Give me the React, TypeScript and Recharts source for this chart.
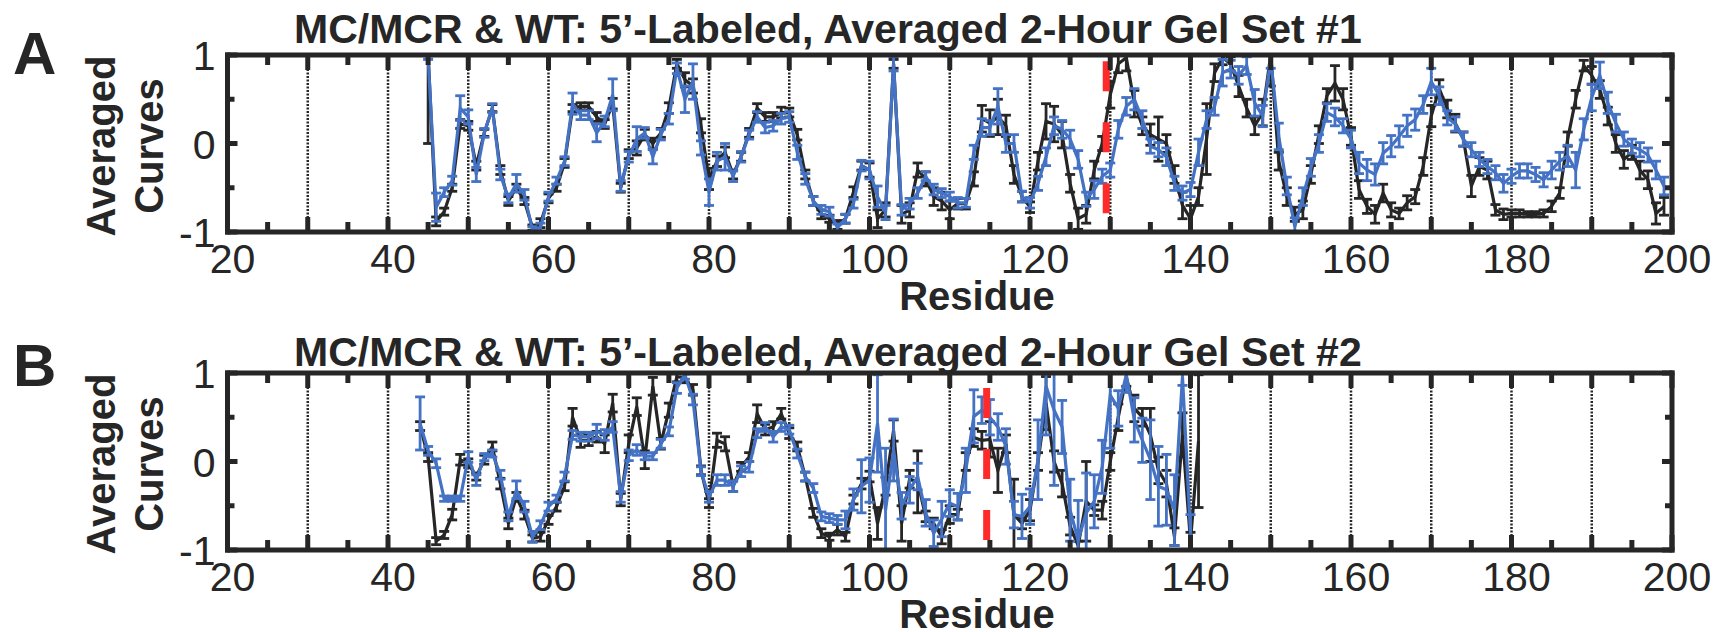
import React from "react";
import { ComposedChart, Line, XAxis, YAxis, ReferenceLine, ErrorBar } from "recharts";

const INK = "#262626";
const BLUE = "#4472C4";
const RED = "#FF2A2A";
const FONT = "'Liberation Sans', Arial, Helvetica, sans-serif";

// ---- panel A: residues 45-199 ----
const residuesA = [
  45, 46, 47, 48, 49, 50, 51, 52, 53, 54, 55, 56, 57, 58, 59, 60, 61, 62, 63, 64,
  65, 66, 67, 68, 69, 70, 71, 72, 73, 74, 75, 76, 77, 78, 79, 80, 81, 82, 83, 84,
  85, 86, 87, 88, 89, 90, 91, 92, 93, 94, 95, 96, 97, 98, 99, 100, 101, 102, 103, 104,
  105, 106, 107, 108, 109, 110, 111, 112, 113, 114, 115, 116, 117, 118, 119, 120, 121, 122, 123, 124,
  125, 126, 127, 128, 129, 130, 131, 132, 133, 134, 135, 136, 137, 138, 139, 140, 141, 142, 143, 144,
  145, 146, 147, 148, 149, 150, 151, 152, 153, 154, 155, 156, 157, 158, 159, 160, 161, 162, 163, 164,
  165, 166, 167, 168, 169, 170, 171, 172, 173, 174, 175, 176, 177, 178, 179, 180, 181, 182, 183, 184,
  185, 186, 187, 188, 189, 190, 191, 192, 193, 194, 195, 196, 197, 198, 199,
];
const blackA = [
  1.0, -0.88, -0.77, -0.5, 0.22, 0.2, -0.25, 0.12, 0.4, -0.3, -0.65, -0.5, -0.65, -0.95, -0.9, -0.62, -0.5, -0.22, 0.4, 0.42,
  0.42, 0.3, 0.22, 0.45, -0.5, -0.12, -0.05, 0.1, 0.0, 0.12, 0.4, 0.9, 0.72, 0.65, 0.2, -0.4, -0.2, -0.1, -0.35, -0.15,
  0.12, 0.4, 0.3, 0.3, 0.35, 0.35, 0.1, -0.35, -0.65, -0.8, -0.85, -0.92, -0.85, -0.55, -0.25, -0.3, -0.85, -0.75, 0.9, -0.8,
  -0.75, -0.3, -0.4, -0.6, -0.65, -0.75, -0.68, -0.68, -0.4, 0.28, 0.23, 0.3, 0.2, -0.35, -0.6, -0.72, -0.2, 0.25, 0.22, 0.1,
  -0.45, -0.85, -0.8, -0.3, 0.0, 0.55, 0.9, 0.97, 0.45, 0.2, 0.1, 0.05, 0.0, -0.35, -0.7, -0.85, -0.6, 0.05, 0.8, 0.97,
  0.9, 0.65, 0.4, 0.2, 0.35, 1.0, -0.2, -0.6, -0.8, -0.75, -0.35, 0.1, 0.54, 0.68, 0.5, 0.08, -0.52, -0.71, -0.8, -0.56,
  -0.75, -0.79, -0.67, -0.6, -0.26, 0.31, 0.62, 0.39, 0.23, 0.05, -0.48, -0.26, -0.3, -0.75, -0.8, -0.79, -0.79, -0.8, -0.8, -0.79,
  -0.71, -0.56, 0.05, 0.5, 0.88, 0.77, 0.61, 0.31, 0.0, -0.18, -0.1, -0.3, -0.41, -0.79, -0.71,
];
const blackErrA = [
  [1, 0], 0.05, 0.04, 0.04, 0.05, 0.05, 0.05, 0.04, 0.04, 0.05, 0.05, 0.04, 0.04, 0.03, 0.05, 0.05, 0.04, 0.05, 0.04, 0.04,
  0.04, 0.05, 0.05, 0.06, 0.05, 0.05, 0.08, 0.06, 0.06, 0.05, 0.06, 0.05, 0.08, 0.08, 0.08, 0.12, 0.06, 0.06, 0.05, 0.05,
  0.05, 0.05, 0.05, 0.05, 0.06, 0.05, 0.06, 0.05, 0.05, 0.05, 0.04, 0.05, 0.05, 0.06, 0.05, 0.08, 0.1, 0.08, 0.05, 0.1,
  0.08, 0.08, 0.08, 0.1, 0.1, 0.1, 0.06, 0.06, 0.08, 0.15, 0.15, 0.2, 0.12, 0.1, 0.06, 0.06, 0.1, 0.2, 0.2, 0.15,
  0.1, 0.12, 0.1, 0.1, 0.08, 0.15, 0.1, 0.15, 0.15, 0.1, 0.12, 0.25, 0.1, 0.1, 0.15, 0.15, 0.1, 0.4, 0.1, 0.08,
  0.08, 0.12, 0.1, 0.1, 0.15, 0.35, 0.1, 0.1, 0.08, 0.1, 0.1, 0.1, 0.08, 0.2, 0.12, 0.1, 0.1, 0.08, 0.1, 0.1,
  0.08, 0.06, 0.08, 0.08, 0.1, 0.12, 0.1, 0.1, 0.1, 0.08, 0.12, 0.1, 0.1, 0.06, 0.06, 0.04, 0.04, 0.03, 0.03, 0.04,
  0.06, 0.06, 0.08, 0.1, 0.06, 0.1, 0.1, 0.1, 0.1, 0.1, 0.08, 0.1, 0.1, 0.12, 0.1,
];
const blueA = [
  0.97, -0.72, -0.55, -0.42, 0.4, 0.3, -0.35, 0.12, 0.4, -0.35, -0.62, -0.45, -0.58, -0.98, -0.95, -0.6, -0.42, -0.2, 0.45, 0.32,
  0.32, 0.12, 0.25, 0.55, -0.48, -0.15, 0.05, 0.12, -0.15, 0.1, 0.28, 0.85, 0.5, 0.7, -0.05, -0.55, -0.2, -0.15, -0.37, -0.15,
  0.1, 0.3, 0.18, 0.2, 0.28, 0.3, -0.1, -0.4, -0.65, -0.75, -0.77, -0.95, -0.85, -0.68, -0.25, -0.3, -0.6, -0.78, 0.9, -0.75,
  -0.68, -0.56, -0.37, -0.52, -0.56, -0.6, -0.67, -0.67, -0.1, 0.18, 0.18, 0.42, 0.0, 0.0, -0.6, -0.67, -0.45, -0.15, 0.2, 0.16,
  0.05, -0.18, -0.63, -0.52, -0.37, -0.3, 0.16, 0.42, 0.5, 0.27, -0.03, -0.07, -0.15, -0.45, -0.56, -0.52, -0.1, 0.27, 0.42, 0.8,
  0.84, 0.77, 0.88, 0.46, 0.31, 0.95, 0.08, -0.48, -0.94, -0.6, -0.27, 0.0, 0.35, 0.3, 0.2, 0.05, -0.22, -0.3, -0.35, -0.11,
  -0.03, 0.08, 0.2, 0.27, 0.44, 0.7, 0.54, 0.29, 0.22, 0.05, -0.07, -0.18, -0.26, -0.33, -0.45, -0.37, -0.31, -0.31, -0.35, -0.41,
  -0.3, -0.2, -0.14, -0.3, 0.16, 0.52, 0.77, 0.46, 0.23, 0.05, -0.03, -0.07, -0.13, -0.3, -0.48,
];
const blueErrA = [
  0.02, 0.16, 0.05, 0.05, 0.14, 0.08, 0.08, 0.05, 0.05, 0.06, 0.05, 0.1, 0.06, 0.04, 0.05, 0.05, 0.04, 0.05, 0.12, 0.05,
  0.05, 0.1, 0.06, 0.18, 0.06, 0.06, 0.14, 0.06, 0.08, 0.06, 0.06, 0.06, 0.15, 0.2, 0.08, 0.15, 0.1, 0.15, 0.06, 0.06,
  0.05, 0.06, 0.06, 0.06, 0.06, 0.06, 0.08, 0.06, 0.05, 0.05, 0.05, 0.04, 0.05, 0.05, 0.06, 0.1, 0.12, 0.08, 0.08, 0.06,
  0.06, 0.06, 0.05, 0.06, 0.05, 0.05, 0.06, 0.05, 0.08, 0.1, 0.08, 0.2, 0.1, 0.1, 0.06, 0.06, 0.08, 0.1, 0.1, 0.1,
  0.1, 0.1, 0.08, 0.1, 0.08, 0.08, 0.1, 0.1, 0.12, 0.1, 0.08, 0.08, 0.1, 0.08, 0.08, 0.08, 0.15, 0.1, 0.1, 0.15,
  0.1, 0.1, 0.1, 0.15, 0.12, 0.1, 0.15, 0.1, 0.1, 0.1, 0.1, 0.1, 0.1, 0.1, 0.08, 0.1, 0.12, 0.12, 0.12, 0.12,
  0.12, 0.12, 0.12, 0.12, 0.1, 0.15, 0.1, 0.08, 0.08, 0.08, 0.08, 0.08, 0.08, 0.08, 0.1, 0.08, 0.08, 0.08, 0.08, 0.08,
  0.1, 0.1, 0.12, 0.2, 0.12, 0.15, 0.15, 0.12, 0.1, 0.08, 0.08, 0.08, 0.08, 0.1, 0.1,
];

// ---- panel B: residues 44-141 ----
const residuesB = [
  44, 45, 46, 47, 48, 49, 50, 51, 52, 53, 54, 55, 56, 57, 58, 59, 60, 61, 62, 63,
  64, 65, 66, 67, 68, 69, 70, 71, 72, 73, 74, 75, 76, 77, 78, 79, 80, 81, 82, 83,
  84, 85, 86, 87, 88, 89, 90, 91, 92, 93, 94, 95, 96, 97, 98, 99, 100, 101, 102, 103,
  104, 105, 106, 107, 108, 109, 110, 111, 112, 113, 114, 115, 116, 117, 118, 119, 120, 121, 122, 123,
  124, 125, 126, 127, 128, 129, 130, 131, 132, 133, 134, 135, 136, 137, 138, 139, 140, 141,
];
const blackB = [
  0.4, 0.05, -0.9, -0.83, -0.6, 0.02, -0.02, -0.17, 0.02, 0.17, -0.25, -0.7, -0.4, -0.6, -0.87, -0.85, -0.66, -0.51, -0.28, 0.5,
  0.24, 0.24, 0.28, 0.2, 0.66, -0.43, 0.2, 0.62, 0.02, 0.85, 0.2, 0.58, 0.96, 0.94, 0.81, -0.1, -0.47, 0.24, 0.2, -0.28,
  -0.06, 0.05, 0.54, 0.36, 0.39, 0.54, 0.32, 0.17, -0.17, -0.58, -0.81, -0.85, -0.77, -0.85, -0.43, -0.25, -0.17, -0.7, -0.28, 0.35,
  -0.7, -0.2, -0.23, -0.62, -0.7, -0.85, -0.6, -0.6, 0.0, 0.27, 0.24, 0.25, -0.1, 0.2, -0.6, -0.7, -0.55, 0.0, 0.66, 0.0,
  -0.25, -0.73, -0.95, -0.45, -0.55, -0.55, 0.0, 0.5, 0.95, 0.6, 0.5, 0.3, -0.1, -0.25, -0.85, 0.3, -0.9, 0.23,
];
const blackErrB = [
  0.05, 0.05, 0.04, 0.04, 0.06, 0.06, 0.05, 0.04, 0.05, 0.05, 0.06, 0.06, 0.05, 0.05, 0.04, 0.05, 0.05, 0.05, 0.05, 0.1,
  0.08, 0.06, 0.06, 0.1, 0.1, 0.07, 0.1, 0.1, 0.1, 0.1, 0.06, 0.08, 0.06, 0.05, 0.06, 0.05, 0.05, 0.08, 0.08, 0.06,
  0.05, 0.05, 0.1, 0.06, 0.06, 0.06, 0.06, 0.05, 0.05, 0.05, 0.05, 0.04, 0.06, 0.05, 0.05, 0.06, 0.06, 0.18, 0.1, 0.12,
  0.2, 0.1, 0.35, 0.06, 0.06, 0.08, 0.1, 0.06, 0.1, 0.1, 0.1, 0.2, 0.25, 0.1, 0.4, 0.06, 0.12, 0.1, 0.3, 0.12,
  0.15, 0.1, 0.05, 0.45, 0.06, 0.1, 0.1, 0.15, 0.1, 0.15, 0.1, 0.3, 0.15, 0.15, 0.1, 0.25, 0.1, 0.75,
];
const blueB = [
  0.43, 0.12, -0.02, -0.42, -0.42, -0.42, 0.05, -0.21, 0.05, 0.09, -0.15, -0.62, -0.32, -0.51, -0.85, -0.72, -0.51, -0.42, -0.17, 0.3,
  0.28, 0.28, 0.34, 0.3, 0.39, -0.4, 0.07, 0.13, 0.06, 0.06, 0.2, 0.34, 0.83, 0.98, 0.7, -0.11, -0.4, -0.21, -0.21, -0.28,
  -0.11, -0.06, 0.32, 0.39, 0.28, 0.39, 0.36, 0.09, -0.17, -0.3, -0.62, -0.64, -0.66, -0.66, -0.43, -0.28, -0.21, 0.43, -0.55, 0.13,
  -0.5, -0.32, -0.17, -0.58, -0.81, -0.65, -0.47, -0.51, -0.1, 0.51, 0.58, 0.5, 0.39, 0.17, -0.6, -0.62, -0.51, 0.02, 0.85, 0.58,
  0.39, -0.55, -0.89, -0.58, -0.45, -0.06, 0.75, 0.6, 0.98, 0.47, 0.24, 0.02, -0.28, -0.32, -0.55, 0.96, -0.8, null,
];
const blueErrB = [
  0.3, 0.05, 0.05, 0.03, 0.03, 0.03, 0.06, 0.06, 0.04, 0.04, 0.05, 0.05, 0.1, 0.06, 0.06, 0.05, 0.05, 0.04, 0.05, 0.05,
  0.05, 0.05, 0.08, 0.06, 0.06, 0.06, 0.06, 0.06, 0.04, 0.04, 0.05, 0.05, 0.06, 0.05, 0.06, 0.05, 0.06, 0.06, 0.06, 0.06,
  0.06, 0.06, 0.05, 0.05, 0.06, 0.05, 0.05, 0.05, 0.05, 0.05, 0.05, 0.05, 0.05, 0.1, 0.12, 0.3, 0.25, 0.55, 0.7, 0.35,
  0.15, 0.15, 0.15, 0.15, 0.15, 0.2, 0.15, 0.15, 0.25, 0.3, 0.15, 0.2, 0.15, 0.2, 0.15, 0.25, 0.2, 0.45, 0.55, 0.85,
  0.3, 0.35, 0.45, 0.45, 0.3, 0.3, 0.6, 0.2, 0.2, 0.25, 0.25, 0.45, 0.45, 0.4, 0.4, 0.1, 0.2, null,
];

const xTicks = [20, 25, 30, 35, 40, 45, 50, 55, 60, 65, 70, 75, 80, 85, 90, 95, 100, 105, 110, 115, 120,
  125, 130, 135, 140, 145, 150, 155, 160, 165, 170, 175, 180, 185, 190, 195, 200];
const yTicks = [-1, -0.5, 0, 0.5, 1];
const dottedResidues = [30, 40, 50, 60, 70, 80, 90, 100, 110, 120, 130, 140, 150, 160, 170, 180, 190];
const redMarkA = 129.5;
const redMarkB = 114.6;

const titleA = "MC/MCR & WT: 5\u2019-Labeled, Averaged 2-Hour Gel Set #1";
const titleB = "MC/MCR & WT: 5\u2019-Labeled, Averaged 2-Hour Gel Set #2";

// error bars are cut at the axes limits, like the clipped bars of the original
function clipErr(v: number | null, e: any) {
  if (v == null || e == null) return null;
  const [lo, hi] = Array.isArray(e) ? e : [e, e];
  return [Math.max(0, Math.min(lo, v + 1)), Math.max(0, Math.min(hi, 1 - v))];
}

function buildRows(res: number[], k: any[], kE: any[], b: any[], bE: any[]) {
  return res.map((r, i) => ({ r, k: k[i], kE: clipErr(k[i], kE[i]), b: b[i], bE: clipErr(b[i], bE[i]) }));
}

const rowsA = buildRows(residuesA, blackA, blackErrA, blueA, blueErrA);
const rowsB = buildRows(residuesB, blackB, blackErrB, blueB, blueErrB);

const AXIS = { stroke: INK, strokeWidth: 5, strokeLinecap: "square" as const };
const TICK_W = 5;

const BottomTick = (p: any) => {
  const { x, y, payload } = p;
  const v = payload.value;
  const len = v % 10 === 0 ? 15 : 10;
  return (
    <g>
      <line x1={x} x2={x} y1={y} y2={y - len} stroke={INK} strokeWidth={TICK_W} />
      {v % 20 === 0 && (
        <text x={x + 5} y={y + 41} textAnchor="middle" fontSize={41} fill={INK} fontFamily={FONT}>
          {v}
        </text>
      )}
    </g>
  );
};

const TopTick = (p: any) => {
  const { x, y, payload } = p;
  const len = payload.value % 10 === 0 ? 15 : 10;
  return <line x1={x} x2={x} y1={y} y2={y + len} stroke={INK} strokeWidth={TICK_W} />;
};

const LeftTick = (p: any) => {
  const { x, y, payload } = p;
  const v = payload.value;
  const len = Number.isInteger(v) ? 10 : 7;
  return (
    <g>
      <line x1={x} x2={x + len} y1={y} y2={y} stroke={INK} strokeWidth={TICK_W} />
      {Number.isInteger(v) && (
        <text x={x - 12} y={y + 15} textAnchor="end" fontSize={41} fill={INK} fontFamily={FONT}>
          {v}
        </text>
      )}
    </g>
  );
};

const RightTick = (p: any) => {
  const { x, y, payload } = p;
  const len = Number.isInteger(payload.value) ? 10 : 7;
  return <line x1={x} x2={x - len} y1={y} y2={y} stroke={INK} strokeWidth={TICK_W} />;
};

type PanelProps = {
  rows: any[];
  top: number;
  plotTop: number;
  plotBottom: number;
  red: number;
  redStart: number;
};

function Panel({ rows, top, plotTop, plotBottom, red, redStart }: PanelProps) {
  const H = 316;
  return (
    <div style={{ position: "absolute", left: 0, top, width: 1722, height: H }}>
      <ComposedChart
        width={1722}
        height={H}
        data={rows}
        margin={{ top: plotTop - 5, bottom: H - plotBottom - 5, left: 222.5, right: 45 }}
      >
        <XAxis
          xAxisId="b"
          dataKey="r"
          type="number"
          domain={[20, 200]}
          ticks={xTicks}
          interval={0}
          allowDataOverflow
          height={5}
          tickSize={0}
          tickMargin={0}
          tickLine={false}
          axisLine={AXIS}
          tick={(p: any) => <BottomTick {...p} />}
        />
        <XAxis
          xAxisId="t"
          dataKey="r"
          orientation="top"
          type="number"
          domain={[20, 200]}
          ticks={xTicks}
          interval={0}
          allowDataOverflow
          height={5}
          tickSize={0}
          tickMargin={0}
          tickLine={false}
          axisLine={AXIS}
          tick={(p: any) => <TopTick {...p} />}
        />
        <YAxis
          yAxisId="l"
          type="number"
          domain={[-1, 1]}
          ticks={yTicks}
          interval={0}
          allowDataOverflow
          width={5}
          tickSize={0}
          tickMargin={0}
          tickLine={false}
          axisLine={AXIS}
          tick={(p: any) => <LeftTick {...p} />}
        />
        <YAxis
          yAxisId="r"
          orientation="right"
          type="number"
          domain={[-1, 1]}
          ticks={yTicks}
          interval={0}
          allowDataOverflow
          width={5}
          tickSize={0}
          tickMargin={0}
          tickLine={false}
          axisLine={AXIS}
          tick={(p: any) => <RightTick {...p} />}
        />
        {dottedResidues.map((g) => (
          <ReferenceLine
            key={g}
            xAxisId="b"
            yAxisId="l"
            x={g}
            stroke={INK}
            strokeWidth={2.5}
            strokeDasharray="2 1.5"
          />
        ))}
        <Line
          xAxisId="b"
          yAxisId="l"
          dataKey="k"
          type="linear"
          stroke={INK}
          strokeWidth={3.2}
          dot={false}
          isAnimationActive={false}
        >
          <ErrorBar dataKey="kE" direction="y" width={5} strokeWidth={2.8} stroke={INK} isAnimationActive={false} />
        </Line>
        <Line
          xAxisId="b"
          yAxisId="l"
          dataKey="b"
          type="linear"
          stroke={BLUE}
          strokeWidth={3.2}
          dot={false}
          isAnimationActive={false}
        >
          <ErrorBar dataKey="bE" direction="y" width={5} strokeWidth={2.8} stroke={BLUE} isAnimationActive={false} />
        </Line>
        <ReferenceLine
          xAxisId="b"
          yAxisId="l"
          segment={[{ x: red, y: redStart }, { x: red, y: -1 }]}
          stroke={RED}
          strokeWidth={7}
          strokeDasharray="30 31"
        />
      </ComposedChart>
    </div>
  );
}

type LabelProps = { panel: string; title: string; dy: number; titleY: number; letterY: number };

function Labels({ panel, title, dy, titleY, letterY }: LabelProps) {
  const txt = { fill: INK, fontFamily: FONT, fontWeight: 700 } as const;
  return (
    <g>
      <text x={13} y={letterY} fontSize={60} {...txt}>{panel}</text>
      <text x={294} y={titleY} fontSize={41} {...txt}>{title}</text>
      <g transform={`translate(0, ${dy})`}>
        <text x={115} y={146} fontSize={40} textAnchor="middle" transform="rotate(-90 115 146)" {...txt}>Averaged</text>
        <text x={163} y={146} fontSize={40} textAnchor="middle" transform="rotate(-90 163 146)" {...txt}>Curves</text>
        <text x={977} y={310} fontSize={40} textAnchor="middle" {...txt}>Residue</text>
      </g>
    </g>
  );
}

export default function App() {
  return (
    <div style={{ position: "absolute", left: 0, top: 0, width: 1722, height: 632, background: "#fff", overflow: "hidden" }}>
      <Panel rows={rowsA} top={0} plotTop={55} plotBottom={232} red={redMarkA} redStart={0.93} />
      <Panel rows={rowsB} top={316} plotTop={57} plotBottom={234} red={redMarkB} redStart={0.83} />
      <svg width={1722} height={632} style={{ position: "absolute", left: 0, top: 0, pointerEvents: "none" }}>
        <Labels panel="A" title={titleA} dy={0} titleY={43} letterY={74} />
        <Labels panel="B" title={titleB} dy={318} titleY={366} letterY={386} />
      </svg>
    </div>
  );
}
